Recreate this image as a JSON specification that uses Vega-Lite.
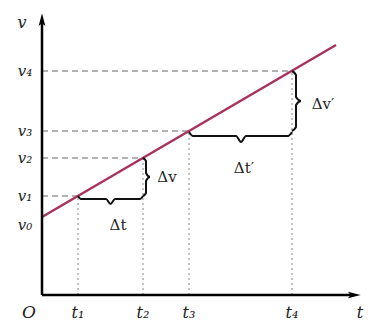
{
  "$schema": "https://vega.github.io/schema/vega-lite/v6.json",
  "width": 318,
  "height": 282,
  "padding": {"left": 42, "top": 13, "right": 8, "bottom": 30},
  "autosize": {"type": "none"},
  "background": "white",
  "config": {"view": {"stroke": null}},
  "datasets": {
    "line": [{"t": 0, "v": 78}, {"t": 294, "v": 250}],
    "levels": [
      {"t": 36, "v": 99, "vl": "v₁", "tl": "t₁"},
      {"t": 101, "v": 137, "vl": "v₂", "tl": "t₂"},
      {"t": 147, "v": 164, "vl": "v₃", "tl": "t₃"},
      {"t": 250, "v": 224, "vl": "v₄", "tl": "t₄"}
    ],
    "braces": [
      {"b": "dt", "i": 0, "t": 36, "v": 99},
      {"b": "dt", "i": 1, "t": 39, "v": 96},
      {"b": "dt", "i": 2, "t": 64, "v": 96},
      {"b": "dt", "i": 3, "t": 68.5, "v": 91},
      {"b": "dt", "i": 4, "t": 73, "v": 96},
      {"b": "dt", "i": 5, "t": 98, "v": 96},
      {"b": "dt", "i": 6, "t": 101, "v": 99},
      {"b": "dv", "i": 0, "t": 101, "v": 99},
      {"b": "dv", "i": 1, "t": 104, "v": 102},
      {"b": "dv", "i": 2, "t": 104, "v": 114},
      {"b": "dv", "i": 3, "t": 108, "v": 118},
      {"b": "dv", "i": 4, "t": 104, "v": 122},
      {"b": "dv", "i": 5, "t": 104, "v": 134},
      {"b": "dv", "i": 6, "t": 101, "v": 137},
      {"b": "dt2", "i": 0, "t": 147, "v": 163},
      {"b": "dt2", "i": 1, "t": 151, "v": 159},
      {"b": "dt2", "i": 2, "t": 194, "v": 159},
      {"b": "dt2", "i": 3, "t": 199, "v": 153},
      {"b": "dt2", "i": 4, "t": 204, "v": 159},
      {"b": "dt2", "i": 5, "t": 246, "v": 159},
      {"b": "dt2", "i": 6, "t": 250, "v": 163},
      {"b": "dv2", "i": 0, "t": 250, "v": 164},
      {"b": "dv2", "i": 1, "t": 254, "v": 168},
      {"b": "dv2", "i": 2, "t": 254, "v": 190},
      {"b": "dv2", "i": 3, "t": 259, "v": 194},
      {"b": "dv2", "i": 4, "t": 254, "v": 198},
      {"b": "dv2", "i": 5, "t": 254, "v": 220},
      {"b": "dv2", "i": 6, "t": 250, "v": 224}
    ],
    "deltas": [
      {"t": 76, "v": 70, "label": "Δt"},
      {"t": 125, "v": 118, "label": "Δv"},
      {"t": 202, "v": 127, "label": "Δt′"},
      {"t": 281, "v": 191, "label": "Δv′"}
    ],
    "axislabels": [
      {"t": -20, "v": 272, "label": "v", "size": 16},
      {"t": -13, "v": -18, "label": "O", "size": 17},
      {"t": 318, "v": -18, "label": "t", "size": 16},
      {"t": -17, "v": 70, "label": "v₀", "size": 15}
    ]
  },
  "encoding": {
    "x": {"field": "t", "type": "quantitative", "scale": {"domain": [0, 318]}, "axis": null},
    "y": {"field": "v", "type": "quantitative", "scale": {"domain": [0, 282]}, "axis": null}
  },
  "layer": [
    {
      "data": {"name": "levels"},
      "mark": {"type": "rule", "color": "#666", "strokeWidth": 1, "strokeDash": [6, 4]},
      "encoding": {"x": {"datum": 0, "type": "quantitative"}, "x2": {"field": "t"}}
    },
    {
      "data": {"name": "levels"},
      "mark": {"type": "rule", "color": "#888", "strokeWidth": 1, "strokeDash": [2, 3]},
      "encoding": {"y": {"datum": 0, "type": "quantitative"}, "y2": {"field": "v"}}
    },
    {
      "data": {"name": "line"},
      "mark": {"type": "line", "color": "#a8325e", "strokeWidth": 2.5, "clip": false},
      "encoding": {}
    },
    {
      "data": {"name": "braces"},
      "mark": {"type": "line", "color": "#111", "strokeWidth": 2, "interpolate": "monotone", "clip": false},
      "encoding": {"detail": {"field": "b"}, "order": {"field": "i"}}
    },
    {
      "data": {"values": [{"t": 0, "v": 0, "t2": 0, "v2": 274}, {"t": 0, "v": 0, "t2": 310, "v2": 0}]},
      "mark": {"type": "rule", "color": "black", "strokeWidth": 2.5, "clip": false},
      "encoding": {"x2": {"field": "t2"}, "y2": {"field": "v2"}}
    },
    {
      "data": {"values": [{"t": 0, "v": 275, "s": "M-0.5,0.9L0,-1L0.5,0.9L0,0.5Z"}, {"t": 312, "v": 0, "s": "M-0.9,-0.5L1,0L-0.9,0.5L-0.5,0Z"}]},
      "mark": {"type": "point", "filled": true, "color": "black", "opacity": 1, "size": 180, "clip": false},
      "encoding": {"shape": {"field": "s", "type": "nominal", "scale": null}}
    },
    {
      "data": {"name": "levels"},
      "mark": {"type": "text", "font": "DejaVu Serif", "fontStyle": "italic", "fontSize": 15, "color": "#222", "align": "center", "baseline": "middle"},
      "encoding": {"x": {"datum": -17, "type": "quantitative"}, "text": {"field": "vl"}}
    },
    {
      "data": {"name": "levels"},
      "mark": {"type": "text", "font": "DejaVu Serif", "fontStyle": "italic", "fontSize": 16, "color": "#222", "align": "center", "baseline": "middle"},
      "encoding": {"y": {"datum": -18, "type": "quantitative"}, "text": {"field": "tl"}}
    },
    {
      "data": {"name": "axislabels"},
      "mark": {"type": "text", "font": "DejaVu Serif", "fontStyle": "italic", "color": "#222", "align": "center", "baseline": "middle", "clip": false},
      "encoding": {"text": {"field": "label"}, "size": {"field": "size", "type": "quantitative", "scale": null}}
    },
    {
      "data": {"name": "deltas"},
      "mark": {"type": "text", "font": "DejaVu Serif", "fontSize": 15, "color": "#222", "align": "center", "baseline": "middle"},
      "encoding": {"text": {"field": "label"}}
    }
  ]
}
